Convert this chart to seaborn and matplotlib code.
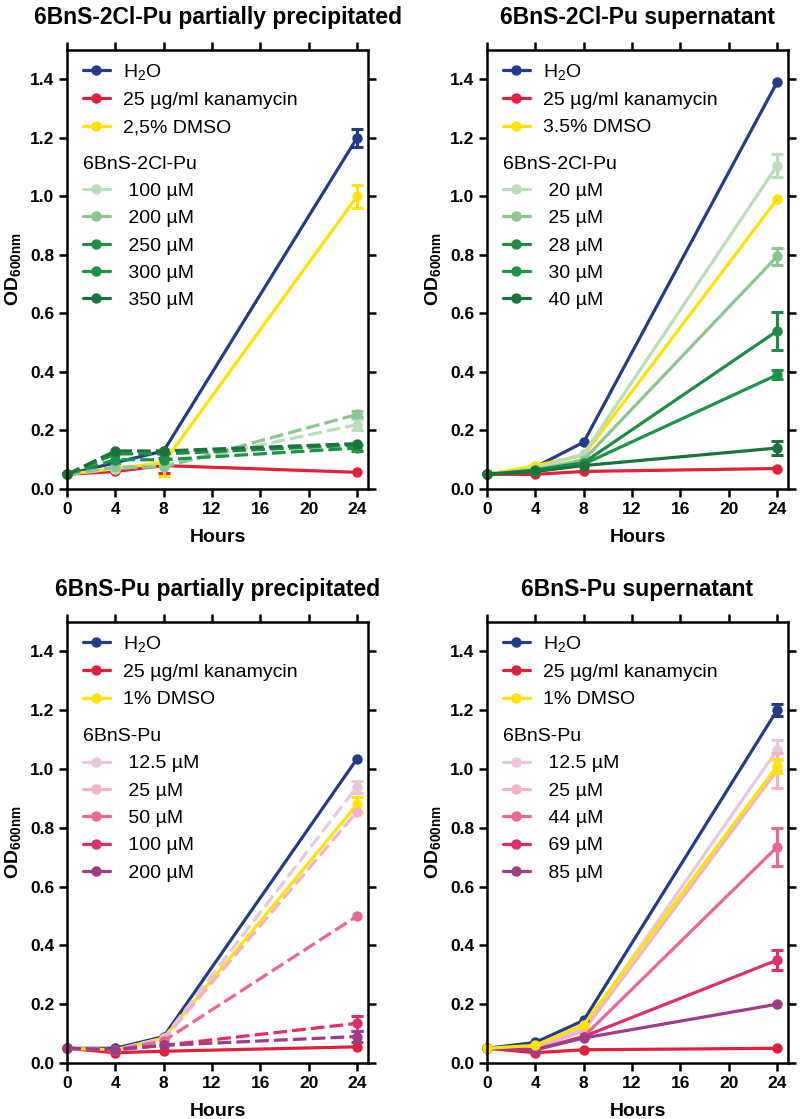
import numpy as np
import pandas as pd
import matplotlib
matplotlib.use('Agg')
import matplotlib.pyplot as plt
from matplotlib.lines import Line2D
import seaborn as sns

# Style
sns.set_theme(style="ticks")
plt.rcParams['font.family'] = ['Liberation Sans', 'DejaVu Sans']
plt.rcParams['mathtext.fontset'] = 'custom'
plt.rcParams['mathtext.rm'] = 'Liberation Sans'
plt.rcParams['mathtext.it'] = 'Liberation Sans:italic'
plt.rcParams['mathtext.bf'] = 'Liberation Sans:bold'
for key in ['text.color', 'axes.labelcolor', 'xtick.color', 'ytick.color']:
    plt.rcParams[key] = 'black'

# Data (mean OD600 and error at each time point)
HOURS = [0, 4, 8, 24]

# 6BnS-2Cl-Pu partially precipitated
p1_labels = ['H$_2$O', '25 µg/ml kanamycin', '2,5% DMSO',
             ' 100 µM', ' 200 µM', ' 250 µM', ' 300 µM', ' 350 µM']
p1_means = [[0.05, 0.09, 0.13, 1.20],
            [0.05, 0.06, 0.08, 0.057],
            [0.05, 0.07, 0.09, 1.00],
            [0.05, 0.07, 0.08, 0.22],
            [0.05, 0.075, 0.075, 0.255],
            [0.05, 0.12, 0.12, 0.15],
            [0.05, 0.10, 0.10, 0.14],
            [0.05, 0.13, 0.13, 0.155]]
p1_errs = [[0, 0, 0, 0.03],
           [0, 0, 0.025, 0],
           [0, 0, 0.045, 0.04],
           [0, 0, 0, 0.02],
           [0, 0, 0, 0.01],
           [0, 0, 0, 0],
           [0, 0, 0, 0.01],
           [0, 0, 0, 0]]

# 6BnS-2Cl-Pu supernatant
p2_labels = ['H$_2$O', '25 µg/ml kanamycin', '3.5% DMSO',
             ' 20 µM', ' 25 µM', ' 28 µM', ' 30 µM', ' 40 µM']
p2_means = [[0.05, 0.075, 0.16, 1.39],
            [0.05, 0.05, 0.06, 0.07],
            [0.05, 0.08, 0.115, 0.99],
            [0.05, 0.07, 0.12, 1.105],
            [0.05, 0.065, 0.10, 0.795],
            [0.05, 0.065, 0.09, 0.54],
            [0.05, 0.06, 0.085, 0.39],
            [0.05, 0.06, 0.08, 0.14]]
p2_errs = [[0, 0, 0, 0],
           [0, 0, 0, 0],
           [0, 0, 0, 0],
           [0, 0, 0, 0.04],
           [0, 0, 0, 0.03],
           [0, 0, 0, 0.065],
           [0, 0, 0, 0.015],
           [0, 0, 0, 0.025]]

# 6BnS-Pu partially precipitated
p3_labels = ['H$_2$O', '25 µg/ml kanamycin', '1% DMSO',
             ' 12.5 µM', ' 25 µM', ' 50 µM', ' 100 µM', ' 200 µM']
p3_means = [[0.05, 0.05, 0.09, 1.035],
            [0.05, 0.035, 0.04, 0.055],
            [0.05, 0.045, 0.085, 0.88],
            [0.05, 0.045, 0.085, 0.94],
            [0.05, 0.045, 0.08, 0.855],
            [0.05, 0.045, 0.075, 0.50],
            [0.05, 0.045, 0.06, 0.135],
            [0.05, 0.045, 0.06, 0.09]]
p3_errs = [[0, 0, 0, 0],
           [0, 0, 0, 0],
           [0, 0, 0, 0.025],
           [0, 0, 0, 0.02],
           [0, 0, 0, 0],
           [0, 0, 0, 0],
           [0, 0, 0, 0.025],
           [0, 0, 0, 0.02]]

# 6BnS-Pu supernatant
p4_labels = ['H$_2$O', '25 µg/ml kanamycin', '1% DMSO',
             ' 12.5 µM', ' 25 µM', ' 44 µM', ' 69 µM', ' 85 µM']
p4_means = [[0.05, 0.07, 0.145, 1.20],
            [0.05, 0.035, 0.045, 0.05],
            [0.05, 0.06, 0.13, 1.01],
            [0.05, 0.055, 0.12, 1.065],
            [0.05, 0.05, 0.11, 0.995],
            [0.05, 0.045, 0.09, 0.735],
            [0.05, 0.045, 0.09, 0.35],
            [0.05, 0.045, 0.085, 0.20]]
p4_errs = [[0, 0, 0, 0.02],
           [0, 0, 0, 0],
           [0, 0, 0, 0.025],
           [0, 0, 0, 0.035],
           [0, 0, 0, 0.06],
           [0, 0, 0, 0.065],
           [0, 0, 0, 0.035],
           [0, 0, 0, 0]]

CTRL_COLORS = ['#233C88', '#E2203C', '#FFE200']
GREENS = ['#B8DDB8', '#8CC68F', '#1E8C45', '#1A9447', '#17743A']
PINKS = ['#EAC6DC', '#F2B3C8', '#EC6790', '#DE2E6E', '#A03C86']

fig = plt.figure(figsize=(8, 11.19), dpi=100)


def draw_panel(rect, title, group, labels, means, errs, treat_colors, dashed, order):
    ax = fig.add_axes(rect)
    colors = CTRL_COLORS + treat_colors
    for i in order:
        df = pd.DataFrame({'Hours': HOURS, 'OD': means[i]})
        ls = '--' if (dashed and i >= 3) else '-'
        sns.lineplot(data=df, x='Hours', y='OD', color=colors[i], marker='o',
                     markersize=7.5, markeredgewidth=0, linewidth=2.3,
                     linestyle=ls, ax=ax, legend=False)
        line = ax.lines[-1]
        line.set_clip_on(False)
        if ls == '--':
            line.set_dashes((4.3, 1.6))
        e = np.array(errs[i])
        if e.any():
            m = e > 0
            ax.errorbar(np.array(HOURS)[m], np.array(means[i])[m], yerr=e[m],
                        fmt='none', ecolor=colors[i], elinewidth=2.2,
                        capsize=4.5, capthick=2.2, clip_on=False)

    ax.set_xlim(0, 24.9)
    ax.set_ylim(0, 1.5)
    ax.set_xticks([0, 4, 8, 12, 16, 20, 24])
    ax.set_yticks(np.arange(0, 1.41, 0.2))
    ax.yaxis.set_major_formatter('{x:.1f}')
    ax.tick_params(direction='out', length=6, width=1.8, top=True, right=True,
                   labelsize=12.5, pad=3, color='black')
    for s in ax.spines.values():
        s.set_linewidth(1.8)
        s.set_color('black')
    for lab in ax.get_xticklabels() + ax.get_yticklabels():
        lab.set_fontweight('bold')
    ax.set_xlabel('Hours', fontsize=14, fontweight='bold', labelpad=9)
    ax.set_ylabel(r'$\mathbf{OD_{600nm}}$', fontsize=14, labelpad=5)
    ax.set_title(title, fontsize=16.5, fontweight='bold', pad=19)

    handles = [Line2D([], [], color=c, lw=2.3, marker='o', ms=7.5, mew=0)
               for c in colors]
    leg1 = ax.legend(handles[:3], labels[:3], loc='upper left',
                     bbox_to_anchor=(0.013, 1.0), frameon=False, fontsize=14,
                     handlelength=1.4, handletextpad=0.7, labelspacing=0.5,
                     borderaxespad=0.2)
    ax.add_artist(leg1)
    ax.legend(handles[3:], labels[3:], title=group, title_fontsize=14,
              alignment='left', loc='upper left', bbox_to_anchor=(0.013, 0.786),
              frameon=False, fontsize=14, handlelength=1.4, handletextpad=0.7,
              labelspacing=0.5, borderaxespad=0.2)
    return ax


W = 301 / 800
draw_panel([67 / 800, 1 - 489 / 1119, W, 439 / 1119],
           '6BnS-2Cl-Pu partially precipitated', '6BnS-2Cl-Pu',
           p1_labels, p1_means, p1_errs, GREENS, True, [0, 1, 2, 3, 4, 5, 6, 7])
draw_panel([487 / 800, 1 - 489 / 1119, W, 439 / 1119],
           '6BnS-2Cl-Pu supernatant', '6BnS-2Cl-Pu',
           p2_labels, p2_means, p2_errs, GREENS, False, [0, 1, 2, 3, 4, 5, 6, 7])
draw_panel([67 / 800, 1 - 1063 / 1119, W, 441 / 1119],
           '6BnS-Pu partially precipitated', '6BnS-Pu',
           p3_labels, p3_means, p3_errs, PINKS, True, [0, 1, 2, 3, 4, 5, 6, 7])
draw_panel([487 / 800, 1 - 1063 / 1119, W, 441 / 1119],
           '6BnS-Pu supernatant', '6BnS-Pu',
           p4_labels, p4_means, p4_errs, PINKS, False, [1, 3, 4, 5, 6, 7, 0, 2])

fig.savefig('out.png', dpi=100)
